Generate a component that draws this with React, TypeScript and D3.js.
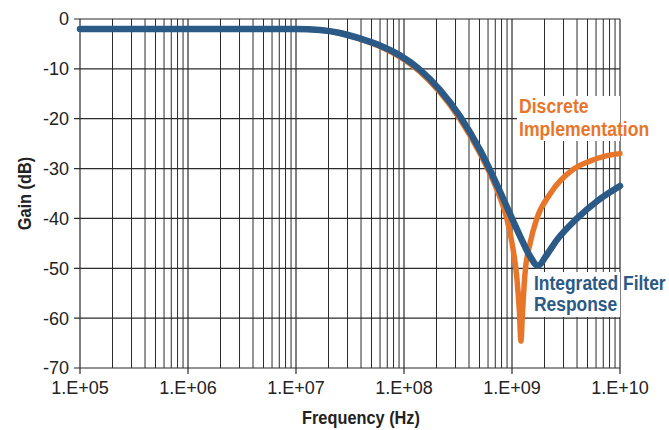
import React from "react";
import * as d3 from "d3";

// frequency (Hz) / gain (dB)
const blueFreq = [1e5, 1e7, 1.67e7, 2.55e7, 3.91e7, 6.0e7, 9.18e7, 1.41e8, 2.15e8, 3.3e8, 5.06e8, 7.74e8, 1.0e9, 1.19e9, 1.47e9, 1.74e9, 2.07e9, 2.61e9, 4.0e9, 6.25e9, 1e10];
const blueGain = [-2, -2, -2.2, -2.8, -3.9, -5.3, -7.3, -10.2, -14.2, -19.5, -26.3, -34.6, -40, -43.6, -47.6, -49.5, -47.5, -44.3, -40, -36.4, -33.5];

const orangeFreq = [1e5, 1e7, 1.67e7, 2.55e7, 3.91e7, 6.0e7, 9.18e7, 1.41e8, 2.15e8, 3.3e8, 5.06e8, 7.74e8, 8.95e8, 1.02e9, 1.11e9, 1.17e9, 1.21e9, 1.25e9, 1.32e9, 1.47e9, 1.7e9, 2.25e9, 3.67e9, 5.27e9, 7.6e9, 1e10];
const orangeGain = [-2, -2, -2.2, -2.8, -4.0, -5.5, -7.6, -10.6, -14.7, -20.1, -27.0, -35.8, -40, -46, -52, -58.5, -64.6, -59, -51, -45, -40, -35.1, -30.2, -28.5, -27.4, -27];

const yTicks = [0, -10, -20, -30, -40, -50, -60, -70];
const xTickLabels = ["1.E+05", "1.E+06", "1.E+07", "1.E+08", "1.E+09", "1.E+10"];

const W = 669;
const H = 430;
const margin = { left: 80, right: 49, top: 19, bottom: 62 };

const BLUE = "#2a5a85";
const ORANGE = "#e8762a";
const GRID = "#2b2b2b";
const FONT = "'Liberation Sans', Arial, sans-serif";

// condensed text: regular font squeezed horizontally
function Narrow(props: {
  x: number;
  y: number;
  size: number;
  sx: number;
  fill: string;
  anchor?: string;
  rotate?: number;
  children: React.ReactNode;
}) {
  const { x, y, size, sx, fill, anchor, rotate, children } = props;
  return (
    <text
      transform={`translate(${x},${y})${rotate ? ` rotate(${rotate})` : ""} scale(${sx},1)`}
      fontSize={size}
      fontWeight="bold"
      fill={fill}
      textAnchor={anchor || "start"}
    >
      {children}
    </text>
  );
}

export default function App() {
  const x = d3.scaleLog().domain([1e5, 1e10]).range([margin.left, W - margin.right]);
  const y = d3.scaleLinear().domain([-70, 0]).range([H - margin.bottom, margin.top]);

  const majors = d3.range(5, 11).map((e) => Math.pow(10, e));
  const minors: number[] = [];
  for (let e = 5; e < 10; e++) for (let k = 2; k <= 9; k++) minors.push(k * Math.pow(10, e));

  const line = d3
    .line<[number, number]>()
    .x((d) => x(d[0]))
    .y((d) => y(d[1]))
    .curve(d3.curveMonotoneX);

  const blue = blueFreq.map((f, i) => [f, blueGain[i]] as [number, number]);
  const orange = orangeFreq.map((f, i) => [f, orangeGain[i]] as [number, number]);

  const [x0, x1] = x.range();
  const [y1, y0] = y.range();

  return (
    <svg width={W} height={H} style={{ position: "absolute", left: 0, top: 0, background: "#fff" }} fontFamily={FONT}>
      {/* grid */}
      {minors.map((f) => (
        <line key={"m" + f} x1={x(f)} x2={x(f)} y1={y0} y2={y1} stroke={GRID} strokeWidth={1} />
      ))}
      {majors.map((f) => (
        <line key={"M" + f} x1={x(f)} x2={x(f)} y1={y0} y2={y1 + 6} stroke={GRID} strokeWidth={1.2} />
      ))}
      {yTicks.map((t) => (
        <line key={"h" + t} x1={x0 - 6} x2={x1} y1={y(t)} y2={y(t)} stroke={GRID} strokeWidth={1.2} />
      ))}

      {/* y tick labels */}
      {yTicks.map((t) => (
        <text key={"yl" + t} x={x0 - 11} y={y(t)} dy="0.36em" textAnchor="end" fontSize={18} fill="#222">
          {t}
        </text>
      ))}
      {/* x tick labels */}
      {majors.map((f, i) => (
        <text key={"xl" + f} x={x(f)} y={y1 + 26} textAnchor="middle" fontSize={18} fill="#222">
          {xTickLabels[i]}
        </text>
      ))}

      {/* annotation backgrounds */}
      <rect x={517} y={96} width={103} height={45} fill="#fff" />
      <rect x={532} y={272} width={88} height={45} fill="#fff" />

      {/* series */}
      <path d={line(orange) || ""} fill="none" stroke={ORANGE} strokeWidth={5.5} strokeLinecap="round" strokeLinejoin="round" />
      <path d={line(blue) || ""} fill="none" stroke={BLUE} strokeWidth={6.5} strokeLinecap="round" strokeLinejoin="round" />

      {/* annotations */}
      <Narrow x={519} y={113} size={21} sx={0.84} fill={ORANGE}>Discrete</Narrow>
      <Narrow x={519} y={136} size={21} sx={0.84} fill={ORANGE}>Implementation</Narrow>
      <Narrow x={534} y={290} size={21} sx={0.83} fill={BLUE}>Integrated Filter</Narrow>
      <Narrow x={534} y={311} size={21} sx={0.83} fill={BLUE}>Response</Narrow>

      {/* axis titles */}
      <Narrow x={361} y={424} size={19} sx={0.86} fill="#222" anchor="middle">Frequency (Hz)</Narrow>
      <Narrow x={31} y={(y0 + y1) / 2} size={19} sx={0.86} fill="#222" anchor="middle" rotate={-90}>Gain (dB)</Narrow>
    </svg>
  );
}
